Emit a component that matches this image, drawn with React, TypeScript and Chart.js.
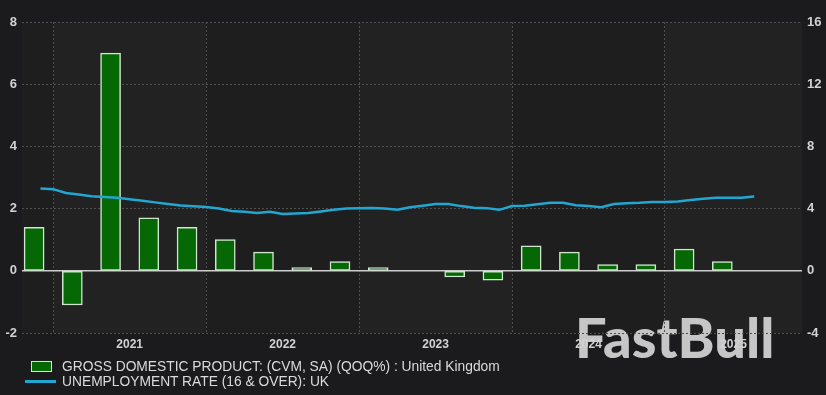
import React, { useEffect, useRef } from "react";
import { Chart, registerables } from "chart.js";

Chart.register(...registerables);

// ---------- data ----------
const quarters = [
  "2020 Q4",
  "2021 Q1", "2021 Q2", "2021 Q3", "2021 Q4",
  "2022 Q1", "2022 Q2", "2022 Q3", "2022 Q4",
  "2023 Q1", "2023 Q2", "2023 Q3", "2023 Q4",
  "2024 Q1", "2024 Q2", "2024 Q3", "2024 Q4",
  "2025 Q1", "2025 Q2",
];
const gdpQoQ = [
  1.4,
  -1.1, 7.0, 1.7, 1.4,
  1.0, 0.6, 0.1, 0.3,
  0.1, 0.0, -0.2, -0.3,
  0.8, 0.6, 0.2, 0.2,
  0.7, 0.3,
];

const months = [
  "2020-12",
  "2021-01", "2021-02", "2021-03", "2021-04", "2021-05", "2021-06",
  "2021-07", "2021-08", "2021-09", "2021-10", "2021-11", "2021-12",
  "2022-01", "2022-02", "2022-03", "2022-04", "2022-05", "2022-06",
  "2022-07", "2022-08", "2022-09", "2022-10", "2022-11", "2022-12",
  "2023-01", "2023-02", "2023-03", "2023-04", "2023-05", "2023-06",
  "2023-07", "2023-08", "2023-09", "2023-10", "2023-11", "2023-12",
  "2024-01", "2024-02", "2024-03", "2024-04", "2024-05", "2024-06",
  "2024-07", "2024-08", "2024-09", "2024-10", "2024-11", "2024-12",
  "2025-01", "2025-02", "2025-03", "2025-04", "2025-05", "2025-06",
  "2025-07", "2025-08",
];
const unemploymentRate = [
  5.3,
  5.25, 5.0, 4.9, 4.8, 4.75, 4.7, 4.6, 4.5, 4.4, 4.3, 4.2, 4.15,
  4.1, 4.0, 3.85, 3.8, 3.72, 3.8, 3.65, 3.68, 3.72, 3.82, 3.93, 4.0,
  4.02, 4.04, 4.0, 3.92, 4.08, 4.19, 4.3, 4.3, 4.16, 4.06, 4.03, 3.92,
  4.17, 4.18, 4.28, 4.38, 4.38, 4.22, 4.16, 4.09, 4.3, 4.35, 4.38, 4.43,
  4.43, 4.45, 4.55, 4.64, 4.69, 4.7, 4.7, 4.78,
];

const yearLabels = ["2021", "2022", "2023", "2024", "2025"];
const leftAxisRange = [-2, 8];
const rightAxisRange = [-4, 16];
const xRange = [-2.45, 58.75]; // months since Jan 2021

const gdpLabel = "GROSS DOMESTIC PRODUCT: (CVM, SA) (QOQ%) : United Kingdom";
const unempLabel = "UNEMPLOYMENT RATE (16 & OVER): UK";

// ---------- helpers ----------
const monthPos = (s: string) => {
  const [y, m] = s.split("-").map(Number);
  return (y - 2021) * 12 + (m - 1);
};
const quarterPos = (s: string) => {
  const [y, q] = s.split(" Q").map(Number);
  return (y - 2021) * 12 + (q - 1) * 3 + 1.5;
};
const yearStarts = yearLabels.map((y) => (Number(y) - 2021) * 12);
const yearMids = yearStarts.map((b) => (b + Math.min(b + 12, xRange[1])) / 2);

const BAR_FILL = "#056805";
const BAR_BORDER = "#cfe6cf";
const LINE_COLOR = "#22a7d3";
const GRID = "#4f4f4f";
const TICK_COLOR = "#d2d2d2";
const FONT = "'Liberation Sans', Arial, sans-serif";

const decorPlugin = {
  id: "decor",
  beforeDraw(chart: any) {
    const { ctx, chartArea: a } = chart;
    const x = chart.scales.x;
    ctx.save();
    const edges = [xRange[0], ...yearStarts, xRange[1]];
    for (let i = 0; i < edges.length - 1; i++) {
      const x0 = x.getPixelForValue(edges[i]);
      const x1 = x.getPixelForValue(Math.min(edges[i + 1], xRange[1]));
      ctx.fillStyle = i % 2 === 1 ? "#222222" : "#1e1e1e";
      ctx.fillRect(x0, a.top, x1 - x0, a.bottom - a.top);
    }
    ctx.font = "900 56px Lato, 'Open Sans', sans-serif";
    ctx.fillStyle = "#c6c6c6";
    ctx.textBaseline = "alphabetic";
    ctx.textAlign = "left";
    ctx.fillText("FastBull", 575, 358);
    ctx.restore();
  },
  beforeDatasetsDraw(chart: any) {
    const { ctx, chartArea: a } = chart;
    const y0 = chart.scales.y.getPixelForValue(0);
    ctx.save();
    ctx.strokeStyle = "#cdcdcd";
    ctx.lineWidth = 1.5;
    ctx.beginPath();
    ctx.moveTo(a.left, y0);
    ctx.lineTo(a.right, y0);
    ctx.stroke();
    ctx.restore();
  },
};

export default function App() {
  const ref = useRef<HTMLCanvasElement>(null);

  useEffect(() => {
    if (!ref.current) return;
    const chart = new Chart(ref.current, {
      type: "bar",
      data: {
        datasets: [
          {
            type: "line",
            label: unempLabel,
            data: months.map((m, i) => ({ x: monthPos(m), y: unemploymentRate[i] })),
            yAxisID: "y1",
            borderColor: LINE_COLOR,
            borderWidth: 2.5,
            pointRadius: 0,
            tension: 0,
            order: 0,
          } as any,
          {
            type: "bar",
            label: gdpLabel,
            data: quarters.map((q, i) => ({ x: quarterPos(q), y: gdpQoQ[i] })),
            yAxisID: "y",
            backgroundColor: BAR_FILL,
            borderColor: BAR_BORDER,
            borderWidth: 1.5,
            borderSkipped: false,
            barThickness: 20,
            order: 1,
          } as any,
        ],
      },
      options: {
        responsive: false,
        animation: false,
        layout: { padding: { top: 22, bottom: 42, left: 0, right: 0 } },
        plugins: { legend: { display: false }, tooltip: { enabled: false } },
        scales: {
          x: {
            type: "linear",
            min: xRange[0],
            max: xRange[1],
            offset: false,
            afterBuildTicks: (s: any) => {
              s.ticks = [...yearStarts, ...yearMids].sort((p, q) => p - q).map((v) => ({ value: v }));
            },
            afterFit: (s: any) => {
              s.height = 20;
            },
            ticks: {
              autoSkip: false,
              maxRotation: 0,
              padding: 4,
              color: TICK_COLOR,
              font: { family: FONT, size: 12, weight: "bold" },
              callback: (v: any) => {
                const i = yearMids.indexOf(Number(v));
                return i >= 0 ? yearLabels[i] : "";
              },
            },
            grid: {
              offset: false,
              drawTicks: false,
              color: (c: any) => (yearStarts.includes(c.tick?.value) ? GRID : "transparent"),
              lineWidth: 1,
            },
            border: { display: false, dash: [2, 2] },
          },
          y: {
            position: "left",
            min: leftAxisRange[0],
            max: leftAxisRange[1],
            afterFit: (s: any) => {
              s.width = 22;
            },
            ticks: {
              stepSize: 2,
              padding: 5,
              color: TICK_COLOR,
              font: { family: FONT, size: 13, weight: "bold" },
            },
            grid: {
              drawTicks: false,
              color: (c: any) => (c.tick?.value === 0 ? "transparent" : GRID),
            },
            border: { display: false, dash: [2, 2] },
          },
          y1: {
            position: "right",
            min: rightAxisRange[0],
            max: rightAxisRange[1],
            afterFit: (s: any) => {
              s.width = 24;
            },
            ticks: {
              stepSize: 4,
              padding: 5,
              color: TICK_COLOR,
              font: { family: FONT, size: 13, weight: "bold" },
            },
            grid: { display: false, drawTicks: false },
            border: { display: false },
          },
        },
      } as any,
      plugins: [decorPlugin],
    });
    return () => chart.destroy();
  }, []);

  const legendText: React.CSSProperties = {
    position: "absolute",
    left: 62,
    fontFamily: FONT,
    fontSize: 13.8,
    lineHeight: "16px",
    color: "#dadada",
    whiteSpace: "nowrap",
  };

  return (
    <div
      style={{
        position: "fixed",
        left: 0,
        top: 0,
        width: 826,
        height: 395,
        background: "#1b1b1d",
        overflow: "hidden",
      }}
    >
      <canvas ref={ref} width={826} height={395} style={{ display: "block" }} />
      <div
        style={{
          position: "absolute",
          left: 31,
          top: 361,
          width: 19,
          height: 9,
          background: BAR_FILL,
          border: `1.5px solid ${BAR_BORDER}`,
        }}
      />
      <div style={{ ...legendText, top: 359 }}>{gdpLabel}</div>
      <div
        style={{
          position: "absolute",
          left: 25,
          top: 380,
          width: 31,
          height: 3,
          background: LINE_COLOR,
        }}
      />
      <div style={{ ...legendText, top: 374 }}>{unempLabel}</div>
    </div>
  );
}
